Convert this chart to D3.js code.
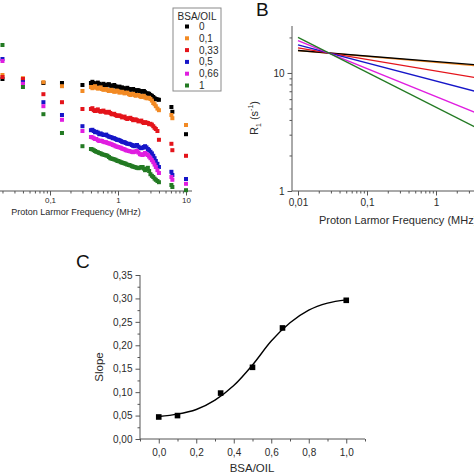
<!DOCTYPE html>
<html><head><meta charset="utf-8">
<script src="https://cdn.jsdelivr.net/npm/d3@7"></script>
<style>
body{margin:0;background:#fff}
svg{display:block;font-family:"Liberation Sans",Arial,sans-serif}
</style>
</head><body>
<svg id="chart" width="474" height="474"></svg>
<script>
// ---------- Panel A data (R1, s^-1, vs proton Larmor frequency, MHz) ----------
const seriesNames = ["0", "0,1", "0,33", "0,5", "0,66", "1"];
const seriesColors = ["#000000", "#f28a24", "#e4141b", "#1616c8", "#e01ee0", "#237a23"];
const freqLow = [0.02, 0.04, 0.08, 0.15, 0.3];
const freqDense = [0.40, 0.42, 0.44, 0.46, 0.48, 0.505, 0.53, 0.555, 0.58, 0.61,
  0.64, 0.67, 0.70, 0.735, 0.77, 0.805, 0.84, 0.88, 0.92, 0.96,
  1.0, 1.05, 1.1, 1.15, 1.2, 1.25, 1.3, 1.37, 1.45, 1.52,
  1.6, 1.67, 1.75, 1.82, 1.9, 2.0, 2.1, 2.2, 2.3, 2.4,
  2.5, 2.62, 2.75, 2.87, 3.0, 3.15, 3.3, 3.45, 3.6, 3.8,
  4.0];
const freqHigh = [6.1, 6.3, 10];

const r1Low0 = [16.0, 15.9, 15.5, 15.5, 15.25];
const r1Low01 = [16.5, 16.1, 15.6, 15.1, 14.5];
const r1Low033 = [16.25, 16.0, 14.1, 13.1, 12.25];
const r1Low05 = [18.5, 15.6, 13.1, 11.5, 10.1];
const r1Low066 = [18.25, 15.4, 12.6, 10.9, 9.5];
const r1Low1 = [20.25, 15.0, 11.6, 9.25, 7.6];

const r1Dense0 = [15.5, 15.65, 15.5, 15.35, 15.4, 15.55, 15.4, 15.25, 15.3, 15.4,
  15.25, 15.15, 15.3, 15.35, 15.2, 15.05, 15.1, 15.25, 15.1, 14.95,
  15.0, 15.05, 14.9, 14.95, 14.85, 14.7, 14.8, 14.9, 14.75, 14.65,
  14.7, 14.75, 14.6, 14.5, 14.6, 14.6, 14.5, 14.4, 14.45, 14.5,
  14.35, 14.2, 14.2, 14.15, 14.0, 13.9, 13.75, 13.6, 13.5, 13.45,
  13.4];
const r1Dense01 = [15.0, 14.85, 15.0, 15.1, 14.9, 14.8, 14.85, 14.95, 14.75, 14.65,
  14.7, 14.75, 14.6, 14.5, 14.6, 14.65, 14.5, 14.4, 14.45, 14.55,
  14.45, 14.3, 14.35, 14.4, 14.3, 14.2, 14.25, 14.3, 14.1, 14.0,
  14.1, 14.15, 14.0, 13.9, 14.0, 14.0, 13.85, 13.75, 13.85, 13.9,
  13.7, 13.6, 13.6, 13.65, 13.5, 13.3, 13.0, 12.85, 12.6, 12.3,
  12.1];
const r1Dense033 = [12.25, 12.35, 12.1, 12.0, 12.1, 12.2, 12.0, 11.9, 12.0, 12.05,
  11.9, 11.8, 11.85, 11.9, 11.75, 11.6, 11.6, 11.65, 11.5, 11.4,
  11.4, 11.45, 11.35, 11.2, 11.25, 11.3, 11.1, 11.0, 11.1, 11.15,
  11.0, 10.85, 10.9, 10.95, 10.85, 10.7, 10.75, 10.8, 10.6, 10.5,
  10.6, 10.55, 10.5, 10.35, 10.4, 10.3, 10.1, 9.9, 9.75, 9.5,
  8.4];
const r1Dense05 = [9.6, 9.65, 9.5, 9.35, 9.4, 9.3, 9.1, 9.2, 9.1, 9.0,
  9.0, 9.05, 8.9, 8.8, 8.75, 8.7, 8.6, 8.6, 8.5, 8.4,
  8.4, 8.35, 8.25, 8.15, 8.1, 8.1, 8.0, 7.9, 7.9, 7.85,
  7.75, 7.65, 7.6, 7.7, 7.75, 7.55, 7.4, 7.35, 7.4, 7.5,
  7.6, 7.45, 7.25, 7.1, 6.9, 6.7, 6.4, 6.1, 5.75, 5.4,
  5.0];
const r1Dense066 = [8.75, 8.7, 8.6, 8.5, 8.5, 8.35, 8.25, 8.3, 8.25, 8.15,
  8.1, 8.1, 8.0, 7.95, 7.9, 7.85, 7.75, 7.7, 7.6, 7.55,
  7.5, 7.45, 7.4, 7.3, 7.25, 7.2, 7.1, 7.05, 7.0, 6.95,
  6.9, 6.85, 6.9, 6.95, 7.0, 6.8, 6.6, 6.55, 6.5, 6.6,
  6.75, 6.6, 6.5, 6.3, 6.1, 5.85, 5.6, 5.3, 5.0, 4.6,
  4.25];
const r1Dense1 = [7.25, 7.2, 7.1, 7.0, 6.9, 6.85, 6.75, 6.7, 6.6, 6.55,
  6.5, 6.45, 6.4, 6.25, 6.1, 6.05, 6.0, 5.95, 5.9, 5.8,
  5.75, 5.7, 5.6, 5.55, 5.5, 5.45, 5.4, 5.3, 5.25, 5.2,
  5.1, 5.05, 5.0, 4.95, 4.9, 4.85, 4.9, 5.0, 5.0, 4.8,
  4.6, 4.75, 4.9, 4.5, 4.1, 3.9, 3.75, 3.55, 3.4, 3.25,
  3.1];

const r1High0 = [12.5, 11.9, 9.1];
const r1High01 = [11.5, 11.1, 10.25];
const r1High033 = [7.9, 7.1, 6.4];
const r1High05 = [4.4, 4.0, 3.5];
const r1High066 = [3.75, 3.4, 2.9];
const r1High1 = [2.75, 2.5, 2.1];

const seriesA = [
  [r1Low0, r1Dense0, r1High0],
  [r1Low01, r1Dense01, r1High01],
  [r1Low033, r1Dense033, r1High033],
  [r1Low05, r1Dense05, r1High05],
  [r1Low066, r1Dense066, r1High066],
  [r1Low1, r1Dense1, r1High1]
];

// ---------- Panel B data (power-law fits: R1 at the ends of the fitted range) ----------
const fitFreqEnds = [0.01, 10];
const fitR1At001 = [15.5, 15.5, 16.3, 17.3, 18.8, 20.0];
const fitR1At10 = [11.2, 11.0, 8.3, 6.0, 3.66, 2.59];
const drawOrderB = [1, 0, 2, 3, 4, 5];

// ---------- Panel C data ----------
const bsaOil = [0, 0.1, 0.33, 0.5, 0.66, 1.0];
const slopes = [0.047, 0.050, 0.098, 0.153, 0.237, 0.296];
const fitCurveX = [0, 0.1, 0.2, 0.3, 0.4, 0.5, 0.6, 0.7, 0.8, 0.9, 1.0];
const fitCurveY = [0.048, 0.053, 0.063, 0.083, 0.114, 0.158, 0.209, 0.248, 0.275, 0.290, 0.297];

const xTicksC = [0, 0.2, 0.4, 0.6, 0.8, 1.0];
const yTicksC = [0, 0.05, 0.10, 0.15, 0.20, 0.25, 0.30, 0.35];

const svg = d3.select("#chart");
const axisColor = "#555";
const textColor = "#2a2a2a";
const comma = s => s.replace(".", ",");
const logFmt = d => comma(String(+d.toPrecision(3)));

function styleAxis(g) {
  g.select(".domain").remove();
  g.selectAll("line").attr("stroke", axisColor);
  g.selectAll("text").attr("fill", textColor);
}

// ======================= Panel A =======================
const xA = d3.scaleLog().domain([0.01, 10]).range([-18, 186]);
const yA = d3.scaleLinear().domain([2, 22]).range([191, 31]);
const gA = svg.append("g");
gA.append("line").attr("x1", -20).attr("x2", 192).attr("y1", 191).attr("y2", 191)
  .attr("stroke", axisColor).attr("stroke-width", 1);
const majorA = [0.01, 0.1, 1, 10];
const labelledA = [0.1, 1, 10];
const minorA = xA.ticks().filter(t => !majorA.some(m => Math.abs(m - t) < 1e-9));
gA.append("g").attr("transform", "translate(0,191)")
  .call(d3.axisBottom(xA).tickValues(minorA).tickSize(2.5).tickFormat(""))
  .call(styleAxis);
gA.append("g").attr("transform", "translate(0,191)")
  .call(d3.axisBottom(xA).tickValues(majorA).tickSize(4.5).tickPadding(2)
    .tickFormat(d => labelledA.includes(d) ? logFmt(d) : ""))
  .call(styleAxis)
  .call(g => g.selectAll("text").attr("font-size", 8));
gA.append("text").attr("x", 76).attr("y", 215).attr("text-anchor", "middle")
  .attr("font-size", 9).attr("fill", textColor).text("Proton Larmor Frequency (MHz)");

seriesA.forEach((parts, si) => {
  const pts = [];
  [freqLow, freqDense, freqHigh].forEach((fr, k) => fr.forEach((f, i) => pts.push([f, parts[k][i]])));
  gA.append("g").selectAll("rect").data(pts)
    .join("rect")
    .attr("x", d => xA(d[0]) - 2).attr("y", d => yA(d[1]) - 2)
    .attr("width", 4).attr("height", 4)
    .attr("fill", seriesColors[si]);
});

// legend
const lg = gA.append("g");
lg.append("rect").attr("x", 173).attr("y", 8).attr("width", 48).attr("height", 83)
  .attr("fill", "#fff").attr("stroke", "#8a8a8a").attr("stroke-width", 1);
lg.append("text").attr("x", 197).attr("y", 19.5).attr("text-anchor", "middle")
  .attr("font-size", 10).attr("fill", textColor).text("BSA/OIL");
seriesNames.forEach((n, i) => {
  const cy = 26.5 + i * 11.8;
  lg.append("rect").attr("x", 185).attr("y", cy - 2).attr("width", 4).attr("height", 4)
    .attr("fill", seriesColors[i]);
  lg.append("text").attr("x", 199).attr("y", cy + 3.5).attr("font-size", 10)
    .attr("fill", textColor).text(n);
});

// ======================= Panel B =======================
const xB = d3.scaleLog().domain([0.01, 10]).range([298, 505]);
const yB = d3.scaleLog().domain([1, 25]).range([191, 26]);
const gB = svg.append("g");
gB.append("text").attr("x", 256).attr("y", 16).attr("font-size", 19)
  .attr("fill", "#111").text("B");
gB.append("line").attr("x1", 292).attr("x2", 292).attr("y1", 26).attr("y2", 191)
  .attr("stroke", axisColor);
gB.append("line").attr("x1", 292).attr("x2", 505).attr("y1", 191).attr("y2", 191)
  .attr("stroke", axisColor);
const majorBx = [0.01, 0.1, 1, 10];
const labelledBx = [0.01, 0.1, 1];
const minorBx = xB.ticks().filter(t => !majorBx.some(m => Math.abs(m - t) < 1e-9));
gB.append("g").attr("transform", "translate(0,191)")
  .call(d3.axisBottom(xB).tickValues(minorBx).tickSize(2.5).tickFormat(""))
  .call(styleAxis);
gB.append("g").attr("transform", "translate(0,191)")
  .call(d3.axisBottom(xB).tickValues(majorBx).tickSize(4.5).tickPadding(3)
    .tickFormat(d => labelledBx.includes(d) ? logFmt(d) : ""))
  .call(styleAxis)
  .call(g => g.selectAll("text").attr("font-size", 10));
const majorBy = [1, 10];
const minorBy = yB.ticks().filter(t => !majorBy.includes(t));
gB.append("g").attr("transform", "translate(292,0)")
  .call(d3.axisLeft(yB).tickValues(minorBy).tickSize(2.5).tickFormat(""))
  .call(styleAxis);
gB.append("g").attr("transform", "translate(292,0)")
  .call(d3.axisLeft(yB).tickValues(majorBy).tickSize(4.5).tickPadding(3).tickFormat(logFmt))
  .call(styleAxis)
  .call(g => g.selectAll("text").attr("font-size", 10));
gB.append("text").attr("x", 319).attr("y", 224).attr("font-size", 11)
  .attr("fill", textColor).text("Proton Larmor Frequency (MHz)");
const yt = gB.append("text").attr("transform", "translate(258,118) rotate(-90)")
  .attr("text-anchor", "middle").attr("font-size", 11).attr("fill", textColor);
yt.append("tspan").text("R");
yt.append("tspan").attr("font-size", 7).attr("dy", 3).text("1");
yt.append("tspan").attr("dy", -3).text(" (s");
yt.append("tspan").attr("font-size", 7).attr("dy", -5).text("-1");
yt.append("tspan").attr("dy", 5).text(")");
const lineB = d3.line().x(d => xB(d[0])).y(d => yB(d[1]));
drawOrderB.forEach(si => {
  gB.append("path")
    .attr("d", lineB([[fitFreqEnds[0], fitR1At001[si]], [fitFreqEnds[1], fitR1At10[si]]]))
    .attr("fill", "none").attr("stroke", seriesColors[si]).attr("stroke-width", 1.4);
});

// ======================= Panel C =======================
const xC = d3.scaleLinear().domain([-0.1, 1.1]).range([140, 365]);
const yC = d3.scaleLinear().domain([0, 0.35]).range([439, 275]);
const gC = svg.append("g");
gC.append("text").attr("x", 76).attr("y", 268).attr("font-size", 19)
  .attr("fill", "#111").text("C");
gC.append("line").attr("x1", 140).attr("x2", 140).attr("y1", 275).attr("y2", 439).attr("stroke", axisColor);
gC.append("line").attr("x1", 140).attr("x2", 365).attr("y1", 439).attr("y2", 439).attr("stroke", axisColor);
gC.append("g").attr("transform", "translate(0,439)")
  .call(d3.axisBottom(xC).tickValues(d3.range(-0.1, 1.15, 0.1).filter(t => Math.round(t * 10) % 2 !== 0)).tickSize(2.5).tickFormat(""))
  .call(styleAxis);
gC.append("g").attr("transform", "translate(0,439)")
  .call(d3.axisBottom(xC).tickValues(xTicksC).tickSize(4.5).tickPadding(5).tickFormat(d => comma(d3.format(".1f")(d))))
  .call(styleAxis)
  .call(g => g.selectAll("text").attr("font-size", 10));
gC.append("g").attr("transform", "translate(140,0)")
  .call(d3.axisLeft(yC).tickValues(d3.range(0.025, 0.35, 0.05)).tickSize(2.5).tickFormat(""))
  .call(styleAxis);
gC.append("g").attr("transform", "translate(140,0)")
  .call(d3.axisLeft(yC).tickValues(yTicksC).tickSize(4.5).tickPadding(3).tickFormat(d => comma(d3.format(".2f")(d))))
  .call(styleAxis)
  .call(g => g.selectAll("text").attr("font-size", 10));
gC.append("text").attr("x", 252).attr("y", 472).attr("text-anchor", "middle")
  .attr("font-size", 11.5).attr("fill", textColor).text("BSA/OIL");
gC.append("text").attr("transform", "translate(103,367) rotate(-90)")
  .attr("text-anchor", "middle").attr("font-size", 11.5).attr("fill", textColor).text("Slope");
gC.append("path")
  .attr("d", d3.line().curve(d3.curveMonotoneX).x((d, i) => xC(fitCurveX[i])).y(d => yC(d))(fitCurveY))
  .attr("fill", "none").attr("stroke", "#000").attr("stroke-width", 1.4);
gC.append("g").selectAll("rect").data(bsaOil.map((x, i) => [x, slopes[i]]))
  .join("rect")
  .attr("x", d => xC(d[0]) - 2.8).attr("y", d => yC(d[1]) - 2.8)
  .attr("width", 5.6).attr("height", 5.6).attr("fill", "#000");
</script>
</body></html>
